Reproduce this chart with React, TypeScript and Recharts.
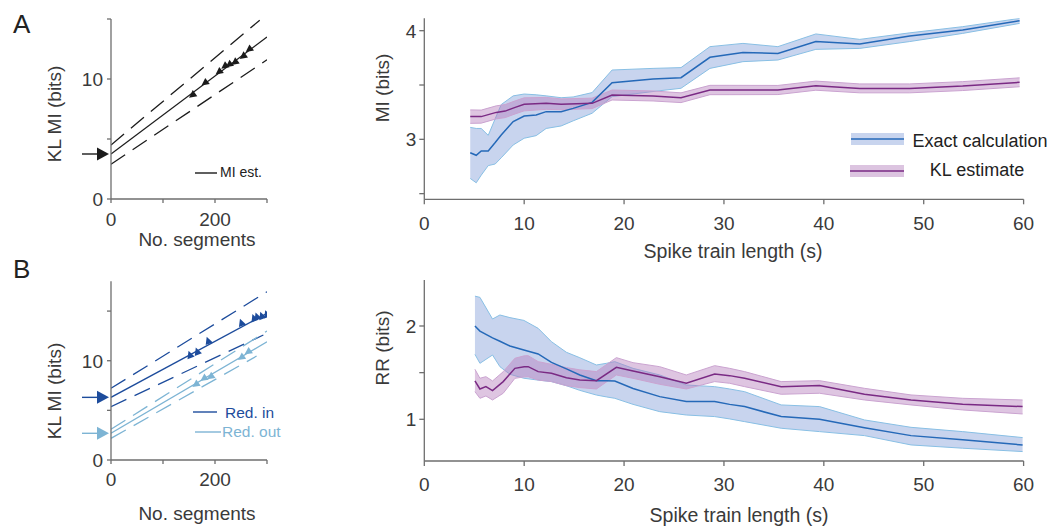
import React from "react";
import { Area, ComposedChart, Line, ReferenceDot, Scatter, XAxis, YAxis } from "recharts";

const W = 1061;
const H = 529;
const FONT = '"Liberation Sans", Arial, Helvetica, sans-serif';
const AXIS = "#6e6e6e";
const TXT = "#3a3a3a";

const BLACK = "#1b1b1b";
const DARK_BLUE = "#1d4c9c";
const LIGHT_BLUE = "#7db4d4";
const BLUE = "#2569b8";
const BLUE_EDGE = "#88bfe4";
const BLUE_FILL = "#c8d4ee";
const PURPLE = "#7a2a84";
const PURPLE_EDGE = "#caa3d0";
const PURPLE_FILL = "#b57fbc";

// ---- panel A, left: KL MI vs no. segments ----
const segEnds = [0, 300];
const aFit = [3.75, 13.5];
const aUpperX = [0, 286];
const aUpper = [4.5, 14.9];
const aLower = [2.9, 11.6];
const aSegX = [157, 181, 208, 219, 227.6, 238.5, 254.5, 266];
const aSegY = [8.67, 9.69, 10.6, 11.08, 11.2, 11.4, 11.9, 12.47];

// ---- panel B, left ----
const inFit = [6.31, 14.77];
const inUpper = [7.22, 16.95];
const inLowerX = [0, 293];
const inLower = [5.37, 12.59];
const outFit = [2.69, 11.91];
const outUpper = [3.09, 12.99];
const outLowerX = [0, 280];
const outLower = [2.18, 10.47];
const inSegX = [152, 166, 187, 251, 275, 281, 290, 299.5];
const inSegY = [10.57, 10.9, 12.0, 13.8, 14.27, 14.43, 14.5, 14.67];
const outSegX = [163.5, 179, 192, 251, 264];
const outSegY = [7.62, 8.23, 8.39, 10.34, 10.9];

// ---- panel A, right: MI vs spike train length ----
const miExactX = [4.6, 5.2, 5.7, 6.4, 7.1, 7.7, 8.9, 10.0, 11.2, 12.2, 13.7, 14.9, 16.8, 18.8, 22.9, 25.7, 28.6, 31.9, 35.4, 39.2, 43.6, 48.6, 53.9, 59.6];
const miExact = [2.877, 2.853, 2.893, 2.893, 2.97, 3.04, 3.163, 3.215, 3.224, 3.255, 3.255, 3.285, 3.34, 3.52, 3.555, 3.567, 3.755, 3.8, 3.79, 3.9, 3.877, 3.951, 4.006, 4.092];
const miExactHi = [3.11, 3.1, 3.1, 3.037, 3.19, 3.32, 3.4, 3.417, 3.41, 3.4, 3.383, 3.39, 3.43, 3.638, 3.653, 3.66, 3.853, 3.883, 3.853, 3.97, 3.92, 3.98, 4.037, 4.113];
const miExactLo = [2.64, 2.6, 2.67, 2.758, 2.773, 2.83, 2.948, 3.01, 3.034, 3.1, 3.123, 3.17, 3.24, 3.393, 3.44, 3.47, 3.653, 3.715, 3.73, 3.828, 3.837, 3.9, 3.975, 4.067];

const miKlX = [4.6, 5.7, 7.2, 8.1, 9.1, 10.0, 12.2, 13.7, 16.8, 18.8, 22.9, 25.7, 28.6, 30.6, 35.4, 39.2, 43.6, 48.6, 53.9, 59.6];
const miKl = [3.209, 3.209, 3.248, 3.26, 3.294, 3.322, 3.331, 3.322, 3.331, 3.408, 3.399, 3.383, 3.454, 3.454, 3.454, 3.494, 3.469, 3.469, 3.49, 3.525];
const miKlHi = [3.271, 3.269, 3.308, 3.32, 3.354, 3.382, 3.386, 3.372, 3.379, 3.454, 3.445, 3.428, 3.497, 3.497, 3.496, 3.536, 3.51, 3.51, 3.531, 3.566];
const miKlLo = [3.147, 3.149, 3.188, 3.2, 3.234, 3.262, 3.276, 3.272, 3.283, 3.362, 3.353, 3.338, 3.411, 3.411, 3.412, 3.452, 3.428, 3.428, 3.449, 3.484];

// ---- panel B, right: RR vs spike train length ----
const rrExactX = [5.07, 5.57, 6.83, 7.57, 8.57, 9.97, 11.4, 12.73, 14.23, 15.57, 17.23, 18.23, 19.07, 20.9, 23.57, 26.23, 29.07, 30.57, 32.07, 35.73, 39.57, 44.07, 48.73, 53.9, 59.9];
const rrExact = [2.0, 1.946, 1.873, 1.836, 1.786, 1.743, 1.7, 1.61, 1.54, 1.475, 1.414, 1.414, 1.41, 1.33, 1.243, 1.19, 1.19, 1.16, 1.136, 1.029, 1.0, 0.91, 0.825, 0.78, 0.725];
const rrExactHi = [2.32, 2.307, 2.075, 2.118, 2.09, 2.06, 1.975, 1.832, 1.718, 1.66, 1.582, 1.6, 1.618, 1.546, 1.475, 1.368, 1.35, 1.325, 1.296, 1.154, 1.136, 0.993, 0.914, 0.868, 0.804];
const rrExactLo = [1.696, 1.6, 1.689, 1.564, 1.482, 1.44, 1.42, 1.404, 1.36, 1.31, 1.26, 1.24, 1.225, 1.16, 1.082, 1.046, 1.029, 1.004, 0.975, 0.904, 0.868, 0.825, 0.725, 0.69, 0.654];

const rrKlX = [5.07, 5.57, 6.17, 6.83, 7.9, 9.07, 10.0, 10.4, 11.4, 12.73, 14.23, 15.57, 17.23, 19.23, 20.9, 23.57, 26.23, 29.07, 30.57, 32.07, 35.73, 39.57, 44.07, 48.73, 53.9, 59.9];
const rrKl = [1.411, 1.325, 1.35, 1.307, 1.404, 1.546, 1.564, 1.564, 1.511, 1.493, 1.446, 1.421, 1.414, 1.557, 1.518, 1.457, 1.386, 1.486, 1.468, 1.439, 1.35, 1.361, 1.268, 1.207, 1.161, 1.136];
const rrKlHi = [1.536, 1.44, 1.457, 1.411, 1.51, 1.654, 1.68, 1.682, 1.618, 1.589, 1.554, 1.53, 1.511, 1.661, 1.607, 1.564, 1.475, 1.575, 1.546, 1.511, 1.404, 1.414, 1.332, 1.261, 1.225, 1.207];
const rrKlLo = [1.296, 1.225, 1.25, 1.207, 1.279, 1.439, 1.455, 1.457, 1.421, 1.404, 1.36, 1.34, 1.325, 1.475, 1.439, 1.375, 1.325, 1.404, 1.386, 1.35, 1.268, 1.279, 1.207, 1.154, 1.1, 1.057];

const segTicks = [0, 100, 200, 300];
const segLabels = [0, 200];
const klTicks = [0, 5, 10, 15];
const klLabels = [0, 10];
const timeTicks = [0, 10, 20, 30, 40, 50, 60];
const miTicks = [2.5, 3, 3.5, 4];
const miLabels = [3, 4];
const rrTicks = [1, 1.5, 2];
const rrLabels = [1, 2];

const pts = (xs: number[], ys: number[]) => xs.map((x, i) => ({ x, y: ys[i] }));
const band = (xs: number[], lo: number[], hi: number[]) => xs.map((x, i) => ({ x, range: [lo[i], hi[i]] }));

type Box = { left: number; right: number; top: number; bottom: number };

const YW = 40;
const XH = 40;

function xTick(show: number[]) {
  return (p: any) =>
    show.includes(p.payload.value) ? (
      <text x={p.x} y={p.y} dy="0.71em" textAnchor="middle" fontSize={19} fill={TXT} fontFamily={FONT}>
        {p.payload.value}
      </text>
    ) : (
      <g />
    );
}

function yTick(show: number[]) {
  return (p: any) =>
    show.includes(p.payload.value) ? (
      <text x={p.x} y={p.y} dy="0.36em" textAnchor="end" fontSize={19} fill={TXT} fontFamily={FONT}>
        {p.payload.value}
      </text>
    ) : (
      <g />
    );
}

function Panel(props: {
  box: Box;
  xDomain: number[];
  xTicks: number[];
  xShow: number[];
  xGap: number;
  yDomain: number[];
  yTicks: number[];
  yShow: number[];
  yGap: number;
  tickLen: number;
  children: React.ReactNode;
}) {
  const { box } = props;
  const margin = { top: box.top, left: box.left - YW, right: W - box.right, bottom: H - box.bottom - XH };
  return (
    <div style={{ position: "absolute", left: 0, top: 0 }}>
      <ComposedChart width={W} height={H} margin={margin}>
        <XAxis
          type="number"
          dataKey="x"
          domain={props.xDomain}
          ticks={props.xTicks}
          allowDataOverflow
          height={XH}
          stroke={AXIS}
          strokeWidth={1.3}
          tickSize={props.tickLen}
          tickMargin={props.xGap}
          tick={xTick(props.xShow)}
        />
        <YAxis
          type="number"
          domain={props.yDomain}
          ticks={props.yTicks}
          allowDataOverflow
          width={YW}
          stroke={AXIS}
          strokeWidth={1.3}
          tickSize={props.tickLen}
          tickMargin={props.yGap}
          tick={yTick(props.yShow)}
        />
        {props.children}
      </ComposedChart>
    </div>
  );
}

function Arrow({ cx, cy, color }: { cx: number; cy: number; color: string }) {
  return (
    <g>
      <line x1={cx - 29} y1={cy} x2={cx - 12} y2={cy} stroke={color} strokeWidth={1.4} />
      <polygon points={`${cx - 14},${cy - 6.5} ${cx - 2},${cy} ${cx - 14},${cy + 6.5}`} fill={color} />
    </g>
  );
}

function triShape(fill: string, angle: number) {
  return (p: any) => (
    <polygon
      points="-4.5,0 3,-3.8 3,3.8"
      transform={`translate(${p.cx},${p.cy}) rotate(${angle})`}
      fill={fill}
    />
  );
}

function fitLine(xs: number[], ys: number[], color: string, dashed: boolean) {
  return (
    <Line
      data={pts(xs, ys)}
      dataKey="y"
      type="linear"
      dot={false}
      activeDot={false}
      stroke={color}
      strokeWidth={1.3}
      strokeDasharray={dashed ? "17 9" : undefined}
      isAnimationActive={false}
    />
  );
}

function bandArea(xs: number[], lo: number[], hi: number[], fill: string, opacity: number, edge: string) {
  return (
    <Area
      data={band(xs, lo, hi)}
      dataKey="range"
      type="linear"
      fill={fill}
      fillOpacity={opacity}
      stroke={edge}
      strokeWidth={1}
      dot={false}
      activeDot={false}
      isAnimationActive={false}
    />
  );
}

function meanLine(xs: number[], ys: number[], color: string) {
  return (
    <Line
      data={pts(xs, ys)}
      dataKey="y"
      type="linear"
      dot={false}
      activeDot={false}
      stroke={color}
      strokeWidth={1.5}
      isAnimationActive={false}
    />
  );
}

function Overlay() {
  const t = { fontFamily: FONT, fill: TXT };
  return (
    <svg width={W} height={H} style={{ position: "absolute", left: 0, top: 0, pointerEvents: "none" }}>
      <text x={13} y={33} fontSize={26} {...t} fill="#222">A</text>
      <text x={13} y={278} fontSize={26} {...t} fill="#222">B</text>

      <text transform="translate(61,114) rotate(-90)" textAnchor="middle" fontSize={19} {...t}>KL MI (bits)</text>
      <text transform="translate(61,391) rotate(-90)" textAnchor="middle" fontSize={19} {...t}>KL MI (bits)</text>
      <text x={197} y={246} textAnchor="middle" fontSize={19} {...t}>No. segments</text>
      <text x={197} y={520} textAnchor="middle" fontSize={19} {...t}>No. segments</text>

      <text transform="translate(389,88) rotate(-90)" textAnchor="middle" fontSize={19} {...t}>MI (bits)</text>
      <text transform="translate(389,348) rotate(-90)" textAnchor="middle" fontSize={19} {...t}>RR (bits)</text>
      <text x={733} y={258} textAnchor="middle" fontSize={19.5} {...t}>Spike train length (s)</text>
      <text x={739} y={522} textAnchor="middle" fontSize={19.5} {...t}>Spike train length (s)</text>

      <line x1={195} y1={173} x2={217} y2={173} stroke={BLACK} strokeWidth={1.4} />
      <text x={220} y={177} fontSize={14} {...t} fill="#222">MI est.</text>

      <line x1={193} y1={412} x2={217} y2={412} stroke={DARK_BLUE} strokeWidth={1.4} />
      <text x={225} y={418} fontSize={15.5} fontFamily={FONT} fill={DARK_BLUE}>Red. in</text>
      <line x1={195} y1={432} x2={221} y2={432} stroke={LIGHT_BLUE} strokeWidth={1.4} />
      <text x={222} y={437} fontSize={15.5} fontFamily={FONT} fill={LIGHT_BLUE}>Red. out</text>

      <rect x={851} y={133} width={53} height={12} fill={BLUE_FILL} />
      <line x1={851} y1={139} x2={904} y2={139} stroke={BLUE} strokeWidth={1.5} />
      <text x={980} y={147} textAnchor="middle" fontSize={18} {...t} fill="#222">Exact calculation</text>
      <rect x={850} y={165} width={54} height={12} fill="#dcc4e0" />
      <line x1={850} y1={171} x2={904} y2={171} stroke={PURPLE} strokeWidth={1.5} />
      <text x={977} y={176} textAnchor="middle" fontSize={18} {...t} fill="#222">KL estimate</text>
    </svg>
  );
}

export default function App() {
  return (
    <div style={{ position: "absolute", left: 0, top: 0, width: W, height: H, background: "#fff", fontFamily: FONT }}>
      <Panel
        box={{ left: 111, right: 267, top: 19, bottom: 199 }}
        xDomain={[0, 300]}
        xTicks={segTicks}
        xShow={segLabels}
        xGap={10}
        yDomain={[0, 15]}
        yTicks={klTicks}
        yShow={klLabels}
        yGap={4}
        tickLen={4}
      >
        {fitLine(aUpperX, aUpper, BLACK, true)}
        {fitLine(segEnds, aLower, BLACK, true)}
        {fitLine(segEnds, aFit, BLACK, false)}
        <Scatter data={pts(aSegX, aSegY)} dataKey="y" shape={triShape(BLACK, -37)} isAnimationActive={false} />
        <ReferenceDot x={0} y={aFit[0]} ifOverflow="visible" shape={(p: any) => <Arrow cx={p.cx} cy={p.cy} color={BLACK} />} />
      </Panel>

      <Panel
        box={{ left: 111, right: 267, top: 281.3, bottom: 460 }}
        xDomain={[0, 300]}
        xTicks={segTicks}
        xShow={segLabels}
        xGap={9}
        yDomain={[0, 18]}
        yTicks={klTicks}
        yShow={klLabels}
        yGap={4}
        tickLen={4}
      >
        {fitLine(segEnds, inUpper, DARK_BLUE, true)}
        {fitLine(inLowerX, inLower, DARK_BLUE, true)}
        {fitLine(segEnds, inFit, DARK_BLUE, false)}
        {fitLine(segEnds, outUpper, LIGHT_BLUE, true)}
        {fitLine(outLowerX, outLower, LIGHT_BLUE, true)}
        {fitLine(segEnds, outFit, LIGHT_BLUE, false)}
        <Scatter data={pts(inSegX, inSegY)} dataKey="y" shape={triShape(DARK_BLUE, 70)} isAnimationActive={false} />
        <Scatter data={pts(outSegX, outSegY)} dataKey="y" shape={triShape(LIGHT_BLUE, -35)} isAnimationActive={false} />
        <ReferenceDot x={0} y={inFit[0]} ifOverflow="visible" shape={(p: any) => <Arrow cx={p.cx} cy={p.cy} color={DARK_BLUE} />} />
        <ReferenceDot x={0} y={outFit[0]} ifOverflow="visible" shape={(p: any) => <Arrow cx={p.cx} cy={p.cy} color={LIGHT_BLUE} />} />
      </Panel>

      <Panel
        box={{ left: 424.3, right: 1023.6, top: 18.3, bottom: 199.3 }}
        xDomain={[0, 60]}
        xTicks={timeTicks}
        xShow={timeTicks}
        xGap={12}
        yDomain={[2.448, 4.114]}
        yTicks={miTicks}
        yShow={miLabels}
        yGap={3}
        tickLen={5}
      >
        {bandArea(miExactX, miExactLo, miExactHi, BLUE_FILL, 1, BLUE_EDGE)}
        {bandArea(miKlX, miKlLo, miKlHi, PURPLE_FILL, 0.45, PURPLE_EDGE)}
        {meanLine(miExactX, miExact, BLUE)}
        {meanLine(miKlX, miKl, PURPLE)}
      </Panel>

      <Panel
        box={{ left: 424.3, right: 1023.6, top: 280, bottom: 461 }}
        xDomain={[0, 60]}
        xTicks={timeTicks}
        xShow={timeTicks}
        xGap={12}
        yDomain={[0.553, 2.493]}
        yTicks={rrTicks}
        yShow={rrLabels}
        yGap={3}
        tickLen={5}
      >
        {bandArea(rrExactX, rrExactLo, rrExactHi, BLUE_FILL, 1, BLUE_EDGE)}
        {bandArea(rrKlX, rrKlLo, rrKlHi, PURPLE_FILL, 0.45, PURPLE_EDGE)}
        {meanLine(rrExactX, rrExact, BLUE)}
        {meanLine(rrKlX, rrKl, PURPLE)}
      </Panel>

      <Overlay />
    </div>
  );
}
